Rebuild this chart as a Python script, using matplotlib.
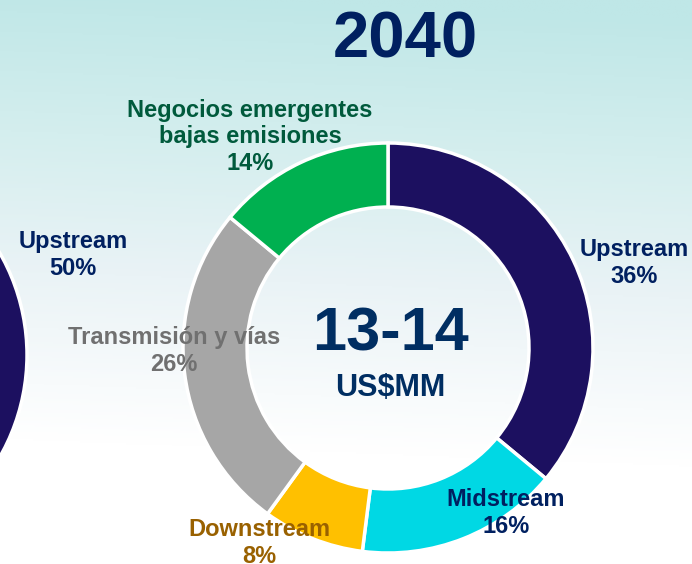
import numpy as np
import matplotlib
matplotlib.use("Agg")
import matplotlib.pyplot as plt
from matplotlib.colors import LinearSegmentedColormap

# ---- data ----
year = "2040"
total_label = "13-14"
unit_label = "US$MM"
segments = ["Upstream", "Midstream", "Downstream", "Transmisión y vías", "Negocios emergentes\nbajas emisiones"]
shares = [36, 16, 8, 26, 14]
colors = ["#1c1060", "#00d8e4", "#ffc000", "#a6a6a6", "#00b050"]
label_colors = ["#002060", "#002060", "#996100", "#707070", "#005a3c"]
# previous-period donut (only its Upstream slice is visible at the left edge)
prev_segments = ["Upstream", "Otros"]
prev_shares = [50, 50]
prev_colors = ["#1c1060", "#a6a6a6"]

W, H = 692, 564
fig = plt.figure(figsize=(W / 100, H / 100), dpi=100)

# background gradient
bg = fig.add_axes([0, 0, 1, 1])
bg.set_axis_off()
cmap = LinearSegmentedColormap.from_list(
    "bg", [(0.0, "#bfe7e7"), (0.25, "#d4eeee"), (0.5, "#eaf3f6"), (0.8, "#ffffff"), (1.0, "#ffffff")])
yy = np.linspace(0, 1, 300)[:, None]
xx = np.linspace(0, 1, 300)[None, :]
grad = np.clip(yy * 1.0 - 0.05 * xx + 0.02, 0, 1)
bg.imshow(grad, cmap=cmap, aspect="auto", extent=[0, 1, 1, 0], vmin=0, vmax=1)
bg.set_xlim(0, 1)
bg.set_ylim(1, 0)

ax = fig.add_axes([0, 0, 1, 1])
ax.set_axis_off()
ax.patch.set_alpha(0)

font = "Liberation Sans"

def Y(p):
    return H - p

# main donut
cx, cy, R, w = 388, Y(348), 205, 64
ax.pie(shares, colors=colors, startangle=90, counterclock=False, radius=R, center=(cx, cy),
       wedgeprops=dict(width=w, edgecolor="white", linewidth=2.5))
# previous donut, cut off at the left edge
ax.pie(prev_shares, colors=prev_colors, startangle=90, counterclock=False, radius=R,
       center=(27 - R, Y(355)), wedgeprops=dict(width=w, edgecolor="white", linewidth=2.5))

ax.set_xlim(0, W)
ax.set_ylim(0, H)
ax.set_aspect("auto")

# labels
pos = [(634, 263), (506, 513), (259, 543), (174, 351), (250, 137)]
for name, val, col, (x, y) in zip(segments, shares, label_colors, pos):
    ax.text(x, Y(y), f"{name}\n{val}%", ha="center", va="center", fontsize=17,
            fontweight="bold", color=col, family=font, linespacing=1.2)

ax.text(73, Y(255), f"{prev_segments[0]}\n{prev_shares[0]}%", ha="center", va="center",
        fontsize=17, fontweight="bold", color="#002060", family=font, linespacing=1.2)

ax.text(405, Y(41), year, ha="center", va="center", fontsize=47, fontweight="bold",
        color="#002060", family=font)
ax.text(391, Y(335), total_label, ha="center", va="center", fontsize=44, fontweight="bold",
        color="#002e62", family=font)
ax.text(390, Y(388), unit_label, ha="center", va="center", fontsize=22, fontweight="bold",
        color="#002e62", family=font)

fig.savefig("out.png", dpi=100)
